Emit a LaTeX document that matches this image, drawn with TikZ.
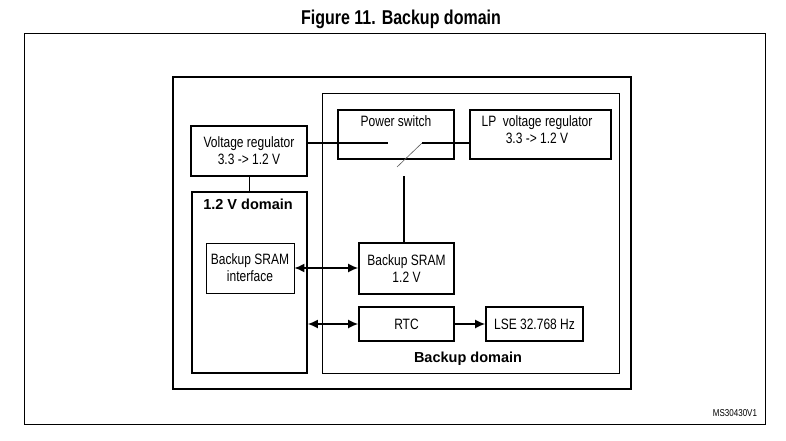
\documentclass[tikz,border=0pt]{standalone}
\usepackage{fontspec}
\setmainfont{Liberation Sans}
\newfontfamily\narrowsf{Liberation Sans}[FakeStretch=0.8]
\usetikzlibrary{positioning,arrows.meta,calc}

\begin{document}
\begin{tikzpicture}[
    % GLOBAL CFG
    x=1pt, y=-1pt,
    >={Latex[length=10pt,width=9pt]},
    font=\narrowsf\fontsize{15}{17}\selectfont,
    % Styles
    blk/.style={% For the thick blocks
        rectangle,
        draw,
        line width=1.6pt,
        inner sep=0pt,
        align=center,
        },
    thinblk/.style={% For the thin frames
        rectangle,
        draw,
        line width=0.8pt,
        inner sep=0pt,
        },
    mylabel/.style={% For the bold domain names
        font=\bfseries\fontsize{14.5}{17}\selectfont,
        },
    wire/.style={% Thick connections
        line width=1.6pt,
        },
    bus/.style={% Two way arrows
        <->,
        line width=1.6pt,
        },
    ]

    \useasboundingbox (0,0) rectangle (786,441);

    % Frame and title
    \node [thinblk, minimum width=741pt, minimum height=391pt] (frame) at (394.5,228.5) {};
    \node [font=\narrowsf\bfseries\fontsize{20}{24}\selectfont] (title) at (401,19) {Figure 11. Backup domain};
    \node [font=\narrowsf\fontsize{10}{12}\selectfont] (mslabel) at (735,413) {MS30430V1};

    % Draw the chip and the backup domain
    \node [blk, minimum width=458pt, minimum height=312pt] (chip) at (402,233) {};
    \node [thinblk, minimum width=297pt, minimum height=280pt] (bkpdom) at (470.5,233) {};
    \node [mylabel] (bkplabel) at (468,359) {Backup domain};

    % 1.2 V side
    \node [blk, minimum width=116pt, minimum height=50pt] (vreg) at (249,151) {Voltage regulator\\3.3 -> 1.2 V};
    \node [blk, minimum width=115pt, minimum height=181pt] (dom12) at (249.5,282.5) {};
    \node [mylabel] (domlabel) at (248,204) {1.2 V domain};
    \node [thinblk, minimum width=88pt, minimum height=50pt, align=center] (sramif) at (250,268) {Backup SRAM\\interface};

    % Backup side
    \node [blk, minimum width=116pt, minimum height=49pt] (pswitch) at (396,134.5) {};
    \node (pswlabel) at (396,121) {Power switch};
    \node [blk, minimum width=141pt, minimum height=49pt] (lpreg) at (540.5,134.5) {};
    \node [align=center] (lplabel) at (537,130) {LP\ \ voltage regulator\\3.3 -> 1.2 V};
    \node [blk, minimum width=95pt, minimum height=51pt] (sram) at (406.5,268.5) {Backup SRAM\\1.2 V};
    \node [blk, minimum width=95pt, minimum height=34pt] (rtc) at (406.5,324) {RTC};
    \node [blk, minimum width=97pt, minimum height=34pt] (lse) at (534.5,324) {LSE 32.768 Hz};

    % The switch
    \coordinate (swa) at (388,143);
    \coordinate (swb) at (397,167);
    \coordinate (swc) at (422,143);
    \coordinate (swd) at (404,176);

    % Connections
    \draw [wire] (vreg.east |- swa) -- (swa);
    \draw [line width=0.6pt, gray!70!black] (swb) -- (swc);
    \draw [wire] (swc) -- (lpreg.west |- swc);
    \draw [wire] (swd) -- (swd |- sram.north);
    \draw [line width=0.8pt] (vreg.south) -- (vreg.south |- dom12.north);
    \draw [bus] (sramif.east) -- (sramif.east -| sram.west);
    \draw [bus] (dom12.east |- rtc) -- (rtc.west);
    \draw [->, wire] (rtc) -- (lse);

\end{tikzpicture}
\end{document}
